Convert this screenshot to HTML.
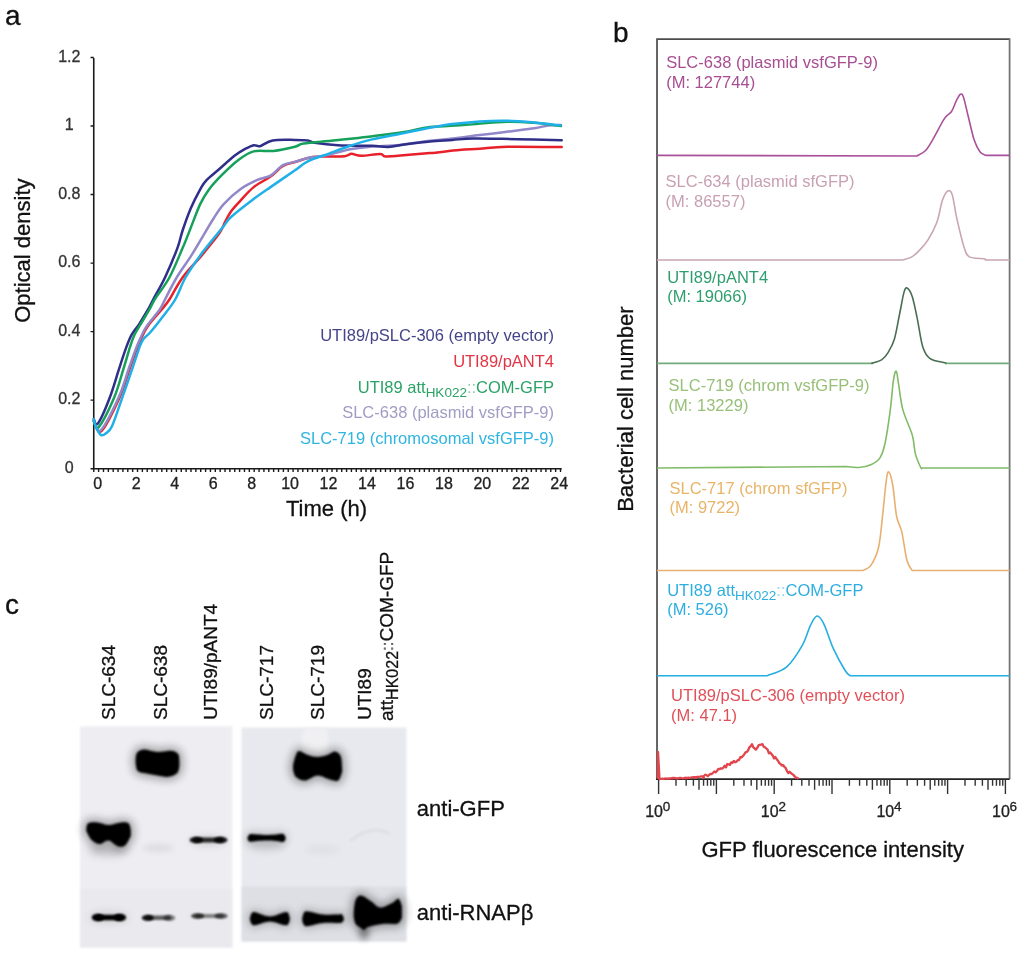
<!DOCTYPE html><html><head><meta charset="utf-8"><style>html,body{margin:0;padding:0;background:#fff;width:1024px;height:954px;overflow:hidden}svg{display:block;filter:blur(0.4px)}text{font-family:"Liberation Sans",sans-serif}</style></head><body>
<svg width="1024" height="954" viewBox="0 0 1024 954">
<rect width="1024" height="954" fill="#fff"/>
<text x="5" y="25" font-size="28" fill="#111" stroke="#111" stroke-width="0.3">a</text>
<text x="613" y="42" font-size="28" fill="#111" stroke="#111" stroke-width="0.3">b</text>
<text x="5" y="614" font-size="28" fill="#111" stroke="#111" stroke-width="0.3">c</text>
<path d="M93.75 57.9 V468.7 H561.7" fill="none" stroke="#1a1a1a" stroke-width="1.6"/>
<path d="M90.55 468.70H93.75M90.55 400.16H93.75M90.55 331.62H93.75M90.55 263.08H93.75M90.55 194.54H93.75M90.55 126.00H93.75M90.55 57.46H93.75M93.75 468.7V471.9M98.61 468.7V471.9M103.47 468.7V471.9M108.34 468.7V471.9M113.20 468.7V471.9M118.06 468.7V471.9M122.92 468.7V471.9M127.78 468.7V471.9M132.65 468.7V471.9M137.51 468.7V471.9M142.37 468.7V471.9M147.23 468.7V471.9M152.09 468.7V471.9M156.96 468.7V471.9M161.82 468.7V471.9M166.68 468.7V471.9M171.54 468.7V471.9M176.40 468.7V471.9M181.27 468.7V471.9M186.13 468.7V471.9M190.99 468.7V471.9M195.85 468.7V471.9M200.71 468.7V471.9M205.58 468.7V471.9M210.44 468.7V471.9M215.30 468.7V471.9M220.16 468.7V471.9M225.02 468.7V471.9M229.89 468.7V471.9M234.75 468.7V471.9M239.61 468.7V471.9M244.47 468.7V471.9M249.33 468.7V471.9M254.20 468.7V471.9M259.06 468.7V471.9M263.92 468.7V471.9M268.78 468.7V471.9M273.64 468.7V471.9M278.51 468.7V471.9M283.37 468.7V471.9M288.23 468.7V471.9M293.09 468.7V471.9M297.95 468.7V471.9M302.82 468.7V471.9M307.68 468.7V471.9M312.54 468.7V471.9M317.40 468.7V471.9M322.26 468.7V471.9M327.12 468.7V471.9M331.99 468.7V471.9M336.85 468.7V471.9M341.71 468.7V471.9M346.57 468.7V471.9M351.43 468.7V471.9M356.30 468.7V471.9M361.16 468.7V471.9M366.02 468.7V471.9M370.88 468.7V471.9M375.74 468.7V471.9M380.61 468.7V471.9M385.47 468.7V471.9M390.33 468.7V471.9M395.19 468.7V471.9M400.05 468.7V471.9M404.92 468.7V471.9M409.78 468.7V471.9M414.64 468.7V471.9M419.50 468.7V471.9M424.36 468.7V471.9M429.23 468.7V471.9M434.09 468.7V471.9M438.95 468.7V471.9M443.81 468.7V471.9M448.67 468.7V471.9M453.54 468.7V471.9M458.40 468.7V471.9M463.26 468.7V471.9M468.12 468.7V471.9M472.98 468.7V471.9M477.85 468.7V471.9M482.71 468.7V471.9M487.57 468.7V471.9M492.43 468.7V471.9M497.29 468.7V471.9M502.16 468.7V471.9M507.02 468.7V471.9M511.88 468.7V471.9M516.74 468.7V471.9M521.60 468.7V471.9M526.47 468.7V471.9M531.33 468.7V471.9M536.19 468.7V471.9M541.05 468.7V471.9M545.91 468.7V471.9M550.78 468.7V471.9M555.64 468.7V471.9M560.50 468.7V471.9" stroke="#1a1a1a" stroke-width="1.4" fill="none"/>
<text x="69.3" y="472.9" font-size="16" text-anchor="middle" fill="#333" stroke="#333" stroke-width="0.3">0</text>
<text x="69.3" y="404.4" font-size="16" text-anchor="middle" fill="#333" stroke="#333" stroke-width="0.3">0.2</text>
<text x="69.3" y="335.8" font-size="16" text-anchor="middle" fill="#333" stroke="#333" stroke-width="0.3">0.4</text>
<text x="69.3" y="267.3" font-size="16" text-anchor="middle" fill="#333" stroke="#333" stroke-width="0.3">0.6</text>
<text x="69.3" y="198.7" font-size="16" text-anchor="middle" fill="#333" stroke="#333" stroke-width="0.3">0.8</text>
<text x="69.3" y="130.2" font-size="16" text-anchor="middle" fill="#333" stroke="#333" stroke-width="0.3">1</text>
<text x="69.3" y="61.7" font-size="16" text-anchor="middle" fill="#333" stroke="#333" stroke-width="0.3">1.2</text>
<text x="97.8" y="488.5" font-size="16" text-anchor="middle" fill="#222" stroke="#222" stroke-width="0.3">0</text>
<text x="136.2" y="488.5" font-size="16" text-anchor="middle" fill="#222" stroke="#222" stroke-width="0.3">2</text>
<text x="174.7" y="488.5" font-size="16" text-anchor="middle" fill="#222" stroke="#222" stroke-width="0.3">4</text>
<text x="213.2" y="488.5" font-size="16" text-anchor="middle" fill="#222" stroke="#222" stroke-width="0.3">6</text>
<text x="251.6" y="488.5" font-size="16" text-anchor="middle" fill="#222" stroke="#222" stroke-width="0.3">8</text>
<text x="290.1" y="488.5" font-size="16" text-anchor="middle" fill="#222" stroke="#222" stroke-width="0.3">10</text>
<text x="328.5" y="488.5" font-size="16" text-anchor="middle" fill="#222" stroke="#222" stroke-width="0.3">12</text>
<text x="367.0" y="488.5" font-size="16" text-anchor="middle" fill="#222" stroke="#222" stroke-width="0.3">14</text>
<text x="405.4" y="488.5" font-size="16" text-anchor="middle" fill="#222" stroke="#222" stroke-width="0.3">16</text>
<text x="443.9" y="488.5" font-size="16" text-anchor="middle" fill="#222" stroke="#222" stroke-width="0.3">18</text>
<text x="482.3" y="488.5" font-size="16" text-anchor="middle" fill="#222" stroke="#222" stroke-width="0.3">20</text>
<text x="520.8" y="488.5" font-size="16" text-anchor="middle" fill="#222" stroke="#222" stroke-width="0.3">22</text>
<text x="559.2" y="488.5" font-size="16" text-anchor="middle" fill="#222" stroke="#222" stroke-width="0.3">24</text>
<text x="326.5" y="516.3" font-size="22" text-anchor="middle" fill="#111" stroke="#111" stroke-width="0.3">Time (h)</text>
<text transform="translate(30.2 250.6) rotate(-90)" font-size="22" text-anchor="middle" fill="#111" stroke="#111" stroke-width="0.3">Optical density</text>
<path d="M93.8 421.0 C95.0 422.7 97.2 434.9 101.5 431.0 C105.8 427.1 114.8 408.2 119.5 397.8 C124.2 387.4 126.8 377.0 129.8 368.4 C132.9 359.8 135.4 352.5 137.8 346.4 C140.2 340.3 142.6 335.4 144.5 331.7 C146.4 328.0 146.2 328.1 149.0 324.4 C151.8 320.7 158.1 313.8 161.5 309.7 C164.9 305.6 165.9 304.9 169.4 299.5 C172.9 294.1 177.2 284.9 182.6 277.5 C188.0 270.1 195.6 262.8 201.7 255.4 C207.8 248.1 215.4 239.0 219.3 233.4 C223.2 227.8 223.2 225.4 225.2 221.7 C227.1 218.0 228.5 214.8 231.0 211.4 C233.5 208.0 236.2 205.2 240.0 201.1 C243.8 197.0 248.6 191.2 253.7 187.1 C258.8 183.0 265.6 180.1 270.5 176.6 C275.4 173.1 278.9 168.4 283.0 166.0 C287.1 163.6 290.4 163.4 295.0 162.0 C299.6 160.6 305.4 158.4 310.5 157.5 C315.6 156.6 319.8 156.7 325.5 156.5 C331.2 156.3 340.4 156.6 344.7 156.2 C349.0 155.8 348.8 153.9 351.5 153.8 C354.2 153.7 356.3 155.8 361.1 155.8 C365.9 155.8 376.1 153.9 380.2 154.0 C384.3 154.1 381.4 156.3 385.7 156.5 C390.0 156.7 398.8 155.7 406.2 155.1 C413.6 154.5 421.2 153.9 430.0 153.1 C438.8 152.3 450.9 150.8 459.2 150.1 C467.5 149.4 471.7 149.4 479.7 148.8 C487.7 148.2 493.3 147.0 507.0 146.7 C520.7 146.4 552.6 147.0 561.7 147.1" fill="none" stroke="#e8202a" stroke-width="2.5" stroke-linejoin="round" stroke-linecap="round"/>
<path d="M93.8 421.0 C94.9 422.5 96.8 434.0 100.9 430.1 C105.0 426.2 113.8 408.1 118.5 397.8 C123.2 387.5 125.8 377.0 128.8 368.4 C131.9 359.8 134.4 352.5 136.8 346.4 C139.2 340.3 141.7 335.4 143.5 331.7 C145.3 328.0 145.2 328.1 147.9 324.4 C150.6 320.7 156.8 313.8 159.6 309.7 C162.4 305.6 162.2 304.9 165.0 299.5 C167.8 294.1 172.3 284.9 176.7 277.5 C181.1 270.1 186.8 262.8 191.4 255.4 C196.1 248.1 200.9 239.5 204.6 233.4 C208.3 227.3 210.2 223.6 213.4 218.7 C216.6 213.8 219.3 209.0 223.7 204.1 C228.1 199.2 234.3 193.5 240.0 189.4 C245.7 185.3 252.8 182.0 257.9 179.7 C263.0 177.4 266.3 178.0 270.5 175.6 C274.7 173.2 278.9 167.4 283.0 165.1 C287.1 162.8 290.4 163.2 295.0 161.9 C299.6 160.6 305.6 158.2 310.5 157.2 C315.4 156.2 317.4 157.2 324.2 155.8 C331.0 154.4 343.5 150.5 351.5 149.0 C359.5 147.5 364.0 147.3 372.0 146.6 C380.0 145.9 389.7 145.9 399.4 144.9 C409.1 143.9 421.2 141.9 430.0 140.8 C438.8 139.7 444.0 139.4 452.3 138.5 C460.6 137.6 470.6 136.2 479.7 135.1 C488.8 134.0 497.9 132.8 507.0 131.7 C516.1 130.5 527.6 129.2 534.4 128.2 C541.2 127.2 543.6 126.0 548.0 125.5 C552.4 125.0 558.8 125.1 561.0 125.0" fill="none" stroke="#9088c8" stroke-width="2.5" stroke-linejoin="round" stroke-linecap="round"/>
<path d="M93.8 419.0 C94.4 419.8 95.2 427.0 97.9 423.5 C100.6 420.0 106.2 407.0 109.7 397.8 C113.2 388.6 116.4 377.0 119.2 368.4 C122.0 359.8 124.5 352.0 126.6 346.4 C128.7 340.8 129.6 338.3 131.7 334.6 C133.8 330.9 136.3 328.5 139.0 324.4 C141.7 320.2 145.5 313.8 147.9 309.7 C150.3 305.6 150.3 304.9 153.2 299.5 C156.0 294.1 161.0 286.1 165.0 277.5 C169.0 268.9 174.5 255.9 177.4 248.1 C180.3 240.3 180.4 237.1 182.6 230.5 C184.8 223.9 187.8 215.3 190.7 208.5 C193.6 201.7 197.6 194.1 200.2 189.4 C202.8 184.8 203.0 183.9 206.1 180.6 C209.2 177.3 213.7 174.0 218.5 169.8 C223.3 165.6 230.5 159.0 234.8 155.6 C239.1 152.2 241.2 151.1 244.3 149.4 C247.5 147.7 251.1 145.7 253.7 145.2 C256.3 144.7 256.9 147.0 260.0 146.2 C263.1 145.4 266.8 141.4 272.6 140.4 C278.4 139.4 289.1 139.9 295.0 139.9 C300.9 139.9 304.5 139.9 307.8 140.4 C311.1 140.9 309.6 142.0 314.6 142.8 C319.6 143.6 328.3 144.8 337.9 145.3 C347.5 145.8 363.6 145.5 372.0 145.8 C380.4 146.1 382.7 147.2 388.4 146.9 C394.1 146.6 399.3 145.1 406.2 144.2 C413.1 143.3 422.3 142.1 430.0 141.4 C437.7 140.7 445.2 140.4 452.3 139.9 C459.4 139.4 464.7 138.7 472.9 138.5 C481.1 138.3 491.6 138.6 501.6 138.8 C511.6 139.0 523.0 139.3 533.0 139.6 C543.0 139.8 556.9 140.2 561.7 140.3" fill="none" stroke="#2f2f8a" stroke-width="2.5" stroke-linejoin="round" stroke-linecap="round"/>
<path d="M93.8 421.0 C94.6 422.0 95.3 431.0 98.7 427.1 C102.1 423.2 109.9 407.6 114.1 397.8 C118.2 388.0 120.9 377.0 123.6 368.4 C126.3 359.8 128.4 352.0 130.2 346.4 C132.0 340.8 132.9 338.3 134.6 334.6 C136.3 330.9 138.1 328.5 140.5 324.4 C142.9 320.2 146.9 313.8 149.3 309.7 C151.7 305.6 151.3 304.9 154.7 299.5 C158.0 294.1 164.8 286.1 169.4 277.5 C174.1 268.9 178.9 256.7 182.6 248.1 C186.3 239.5 188.5 233.4 191.4 226.1 C194.3 218.8 197.3 210.2 200.2 204.1 C203.1 198.0 205.3 194.3 209.0 189.4 C212.7 184.5 217.3 179.6 222.2 174.7 C227.1 169.8 233.2 163.9 238.4 160.0 C243.7 156.1 247.8 152.9 253.7 151.4 C259.6 149.9 266.7 151.7 273.6 150.9 C280.5 150.1 290.0 147.9 295.0 146.7 C300.0 145.5 297.7 144.5 303.7 143.5 C309.7 142.5 321.9 141.7 331.0 140.8 C340.1 139.9 349.3 139.0 358.4 138.0 C367.5 137.0 377.3 135.7 385.7 134.6 C394.1 133.5 401.6 132.4 409.0 131.2 C416.4 129.9 420.5 128.2 430.0 127.1 C439.5 126.0 453.2 125.7 466.0 124.8 C478.8 123.9 495.7 122.1 507.0 121.8 C518.3 121.5 525.0 122.1 534.0 122.8 C543.0 123.5 556.5 125.5 561.0 126.0" fill="none" stroke="#16a05a" stroke-width="2.5" stroke-linejoin="round" stroke-linecap="round"/>
<path d="M93.8 419.0 C94.1 420.3 94.8 424.3 96.0 427.0 C97.2 429.7 99.3 433.9 100.9 435.0 C102.5 436.1 103.9 435.0 105.7 433.5 C107.5 432.0 109.2 432.1 112.0 426.2 C114.8 420.2 118.8 407.4 122.2 397.8 C125.6 388.2 129.5 377.0 132.4 368.4 C135.3 359.8 138.0 351.3 139.8 346.4 C141.7 341.5 141.7 341.4 143.5 339.0 C145.3 336.6 147.6 335.4 150.8 331.7 C154.0 328.0 158.4 322.4 162.5 317.0 C166.6 311.6 171.4 306.1 175.2 299.5 C179.0 292.9 181.3 284.9 185.5 277.5 C189.7 270.1 194.8 262.8 200.2 255.4 C205.6 248.1 213.9 238.3 217.8 233.4 C221.7 228.5 221.5 228.8 223.7 226.1 C225.9 223.4 226.2 221.4 231.0 217.0 C235.8 212.6 246.1 204.7 252.7 199.7 C259.3 194.7 263.4 192.0 270.5 187.1 C277.6 182.2 288.8 174.6 295.0 170.3 C301.2 166.0 302.2 164.1 307.8 161.3 C313.4 158.6 321.5 156.3 328.3 153.8 C335.1 151.3 341.5 148.6 348.8 146.2 C356.1 143.8 363.6 141.4 372.0 139.4 C380.4 137.4 389.7 135.8 399.4 133.9 C409.1 132.0 421.2 129.4 430.0 127.8 C438.8 126.2 444.0 125.2 452.3 124.1 C460.6 123.0 470.6 122.0 479.7 121.4 C488.8 120.8 497.9 120.5 507.0 120.7 C516.1 120.9 525.5 121.7 534.4 122.5 C543.3 123.3 556.1 125.0 560.4 125.5" fill="none" stroke="#1fb0e8" stroke-width="2.5" stroke-linejoin="round" stroke-linecap="round"/>
<text x="554" y="341.4" font-size="16.5" text-anchor="end" fill="#444488">UTI89/pSLC-306 (empty vector)</text>
<text x="554" y="367.2" font-size="16.5" text-anchor="end" fill="#e23444">UTI89/pANT4</text>
<text x="554" y="392.8" font-size="16.5" text-anchor="end" fill="#2aa266">UTI89 att<tspan font-size="13.5" dy="4">HK022</tspan><tspan dy="-4" opacity="0.55">::</tspan>COM-GFP</text>
<text x="554" y="418.3" font-size="16.5" text-anchor="end" fill="#a09cc4">SLC-638 (plasmid vsfGFP-9)</text>
<text x="554" y="444.2" font-size="16.5" text-anchor="end" fill="#30b4e0">SLC-719 (chromosomal vsfGFP-9)</text>
<path d="M657 779.2 V39.1 H1009.6" fill="none" stroke="#4c4c4c" stroke-width="1.7"/>
<path d="M1009.6 38.300000000000004 V779.2" fill="none" stroke="#747474" stroke-width="1.8"/>
<path d="M656 779.2 H1009.6" stroke="#222" stroke-width="1.7"/>
<path d="M658.60 779.2V793.9000000000001M676.00 779.2V785.7M686.18 779.2V785.7M693.40 779.2V785.7M699.00 779.2V789.8000000000001M703.58 779.2V785.7M707.45 779.2V785.7M710.80 779.2V785.7M713.76 779.2V785.7M716.40 779.2V793.9000000000001M733.80 779.2V785.7M743.98 779.2V785.7M751.20 779.2V785.7M756.80 779.2V789.8000000000001M761.38 779.2V785.7M765.25 779.2V785.7M768.60 779.2V785.7M771.56 779.2V785.7M774.20 779.2V793.9000000000001M791.60 779.2V785.7M801.78 779.2V785.7M809.00 779.2V785.7M814.60 779.2V789.8000000000001M819.18 779.2V785.7M823.05 779.2V785.7M826.40 779.2V785.7M829.36 779.2V785.7M832.00 779.2V793.9000000000001M849.40 779.2V785.7M859.58 779.2V785.7M866.80 779.2V785.7M872.40 779.2V789.8000000000001M876.98 779.2V785.7M880.85 779.2V785.7M884.20 779.2V785.7M887.16 779.2V785.7M889.80 779.2V793.9000000000001M907.20 779.2V785.7M917.38 779.2V785.7M924.60 779.2V785.7M930.20 779.2V789.8000000000001M934.78 779.2V785.7M938.65 779.2V785.7M942.00 779.2V785.7M944.96 779.2V785.7M947.60 779.2V793.9000000000001M965.00 779.2V785.7M975.18 779.2V785.7M982.40 779.2V785.7M988.00 779.2V789.8000000000001M992.58 779.2V785.7M996.45 779.2V785.7M999.80 779.2V785.7M1002.76 779.2V785.7M1005.40 779.2V793.9000000000001" stroke="#333" stroke-width="1.4" fill="none"/>
<text x="654.1" y="816.5" font-size="16" text-anchor="middle" fill="#222" stroke="#222" stroke-width="0.3">10</text><text x="662.8" y="811" font-size="13.5" fill="#222" stroke="#222" stroke-width="0.3">0</text>
<text x="769.7" y="816.5" font-size="16" text-anchor="middle" fill="#222" stroke="#222" stroke-width="0.3">10</text><text x="778.4" y="811" font-size="13.5" fill="#222" stroke="#222" stroke-width="0.3">2</text>
<text x="885.3" y="816.5" font-size="16" text-anchor="middle" fill="#222" stroke="#222" stroke-width="0.3">10</text><text x="894.0" y="811" font-size="13.5" fill="#222" stroke="#222" stroke-width="0.3">4</text>
<text x="1000.9" y="816.5" font-size="16" text-anchor="middle" fill="#222" stroke="#222" stroke-width="0.3">10</text><text x="1009.6" y="811" font-size="13.5" fill="#222" stroke="#222" stroke-width="0.3">6</text>
<text x="832.7" y="856.9" font-size="22" text-anchor="middle" fill="#111" stroke="#111" stroke-width="0.3">GFP fluorescence intensity</text>
<text transform="translate(632.8 409.1) rotate(-90)" font-size="22" text-anchor="middle" fill="#111" stroke="#111" stroke-width="0.3">Bacterial cell number</text>
<path d="M657 155.4 L917.0 156.0 C918.4 155.1 922.7 153.5 925.3 150.8 C927.9 148.2 929.3 145.5 932.5 140.1 C935.7 134.7 941.2 123.4 944.4 118.6 C947.6 113.8 949.5 114.5 951.5 111.5 C953.5 108.5 954.8 103.7 956.3 100.8 C957.8 97.9 959.2 94.9 960.4 94.3 C961.6 93.7 962.2 93.5 963.5 97.2 C964.8 100.9 966.4 109.1 968.2 116.2 C970.0 123.3 972.2 134.1 974.2 140.1 C976.2 146.1 978.1 149.4 980.1 152.0 C982.1 154.6 985.1 154.8 986.1 155.4 L1009.6 155.4" fill="none" stroke="#a8519a" stroke-width="1.6" stroke-linejoin="round"/>
<path d="M657 260 L902.9 260.0 C904.4 259.5 909.2 258.5 911.9 256.9 C914.6 255.3 916.4 253.4 919.1 250.6 C921.8 247.8 925.0 244.6 928.0 239.8 C931.0 235.0 934.6 228.5 937.0 221.9 C939.4 215.3 940.6 205.5 942.4 200.3 C944.2 195.2 946.1 191.9 947.8 191.0 C949.4 190.1 950.8 190.3 952.3 194.9 C953.8 199.5 954.8 209.6 956.8 218.3 C958.8 227.0 961.9 240.6 964.0 247.0 C966.1 253.4 966.1 254.9 969.4 256.9 C972.7 258.8 981.1 258.2 983.8 258.7 C986.5 259.2 985.2 259.8 985.5 260.0 L1009.6 260" fill="none" stroke="#c9a5b5" stroke-width="1.6" stroke-linejoin="round"/>
<path d="M657 363.4 H873.4 M945 363.4 H1009.6" fill="none" stroke="#72aa7a" stroke-width="1.8"/>
<path d="M871.4 363.4 C873.1 362.8 879.1 361.5 881.9 359.6 C884.7 357.8 886.1 355.8 888.2 352.3 C890.3 348.8 892.6 345.2 894.5 338.7 C896.4 332.2 898.1 321.2 899.7 313.5 C901.3 305.8 902.7 296.9 903.9 292.6 C905.1 288.4 905.7 287.3 907.1 288.0 C908.5 288.7 910.6 291.5 912.3 296.8 C914.0 302.1 915.8 311.4 917.5 319.8 C919.2 328.2 920.7 340.5 922.8 347.0 C924.9 353.5 926.4 356.0 930.1 358.6 C933.8 361.2 942.1 362.0 944.8 362.8 C947.4 363.6 945.8 363.3 946.0 363.4" fill="none" stroke="#4a6e52" stroke-width="1.6" stroke-linejoin="round"/>
<path d="M657 468 L846.3 466.5 C848.4 466.7 854.7 467.9 858.9 467.5 C863.1 467.1 867.9 466.0 871.4 464.4 C874.9 462.8 877.5 461.6 879.8 458.1 C882.1 454.6 883.2 451.5 885.0 443.5 C886.8 435.5 888.9 420.4 890.3 409.9 C891.7 399.4 892.4 387.1 893.4 380.6 C894.4 374.2 895.3 370.5 896.2 371.2 C897.1 371.9 897.6 378.4 898.7 384.8 C899.8 391.2 900.6 401.5 902.9 409.9 C905.2 418.3 910.2 427.8 912.3 435.1 C914.4 442.4 914.0 448.5 915.4 453.9 C916.8 459.3 919.6 465.1 920.7 467.5 C921.8 469.9 921.8 467.9 922.0 468.0 L1009.6 468" fill="none" stroke="#80bb68" stroke-width="1.6" stroke-linejoin="round"/>
<path d="M657 570.5 L863.1 570.5 C864.4 569.6 868.3 569.3 870.9 565.4 C873.5 561.5 876.7 555.5 878.6 547.3 C880.5 539.1 881.2 527.6 882.5 516.4 C883.8 505.2 885.2 487.7 886.3 480.3 C887.4 472.9 887.8 471.1 888.9 472.0 C890.0 472.9 891.5 478.1 892.8 485.5 C894.1 492.9 895.1 508.7 896.6 516.4 C898.1 524.1 900.1 524.6 901.8 531.9 C903.5 539.2 905.2 553.8 906.9 560.2 C908.6 566.6 911.2 568.8 912.1 570.5 L1009.6 570.5" fill="none" stroke="#e8b070" stroke-width="1.6" stroke-linejoin="round"/>
<path d="M657 675.7 L767.2 675.7 C770.5 674.2 780.9 671.9 786.7 666.8 C792.6 661.7 798.4 652.1 802.3 645.3 C806.2 638.5 807.8 630.7 810.2 625.8 C812.7 620.9 814.7 616.3 817.0 616.0 C819.3 615.7 821.0 618.3 823.8 623.8 C826.6 629.3 830.0 641.4 833.6 649.2 C837.2 657.0 842.5 666.3 845.3 670.7 C848.1 675.1 849.4 674.9 850.2 675.7 L1009.6 675.7" fill="none" stroke="#25aee0" stroke-width="1.6" stroke-linejoin="round"/>
<path d="M658.0 779.0 L658.0 752.0 L659.5 779.0 L661.0 778.8 L662.3 778.7 L663.6 778.9 L664.9 778.5 L666.2 778.7 L667.5 778.6 L668.8 778.3 L670.1 778.6 L671.4 778.2 L672.7 778.4 L674.0 778.1 L675.3 778.1 L676.6 778.3 L677.9 778.5 L679.2 778.0 L680.5 778.0 L681.8 778.2 L683.1 778.3 L684.4 778.1 L685.7 777.9 L687.0 778.2 L688.3 777.6 L689.6 778.0 L690.9 777.6 L692.2 777.3 L693.5 777.2 L694.8 777.1 L696.1 777.3 L697.4 776.8 L698.7 776.9 L700.0 776.7 L701.3 776.4 L702.6 776.4 L703.9 776.0 L705.2 774.7 L706.5 775.0 L707.8 776.3 L709.1 775.0 L710.4 773.9 L711.7 774.0 L713.0 772.8 L714.3 771.5 L715.6 772.3 L716.9 771.2 L718.2 769.0 L719.5 769.2 L720.8 768.3 L722.1 768.7 L723.4 767.6 L724.7 765.6 L726.0 767.3 L727.3 764.0 L728.6 764.3 L729.9 764.9 L731.2 762.4 L732.5 762.9 L733.8 760.9 L735.1 762.3 L736.4 761.8 L737.7 760.1 L739.0 760.0 L740.3 757.2 L741.6 757.4 L742.9 756.0 L744.2 754.5 L745.5 752.4 L746.8 751.9 L748.1 750.5 L749.4 747.3 L750.7 746.1 L752.0 744.1 L753.3 747.3 L754.6 748.4 L755.9 749.6 L757.2 748.1 L758.5 745.4 L759.8 744.8 L761.1 744.7 L762.4 744.1 L763.7 746.8 L765.0 747.3 L766.3 748.5 L767.6 749.7 L768.9 753.4 L770.2 752.5 L771.5 754.0 L772.8 755.7 L774.1 758.4 L775.4 757.0 L776.7 759.3 L778.0 760.8 L779.3 763.1 L780.6 764.0 L781.9 765.6 L783.2 765.1 L784.5 767.0 L785.8 768.2 L787.1 771.3 L788.4 773.0 L789.7 771.8 L791.0 773.1 L792.3 774.1 L793.6 775.0 L794.9 776.7 L796.2 777.9 L797.5 777.8 L798.4 779.0" fill="none" stroke="#e2454c" stroke-width="2.3" stroke-linejoin="round"/>
<path d="M672 777.8 h3" stroke="#e2454c" stroke-width="2"/>
<path d="M684 777.8 h3" stroke="#e2454c" stroke-width="2"/>
<path d="M694 777.8 h3" stroke="#e2454c" stroke-width="2"/>
<path d="M702 777.8 h3" stroke="#e2454c" stroke-width="2"/>
<text x="666.2" y="67.7" font-size="16.5" fill="#a84e92">SLC-638 (plasmid vsfGFP-9)</text>
<text x="666.2" y="87.6" font-size="16.5" fill="#a84e92">(M: 127744)</text>
<text x="665.6" y="187.3" font-size="16.5" fill="#c8a0b2">SLC-634 (plasmid sfGFP)</text>
<text x="665.6" y="206.9" font-size="16.5" fill="#c8a0b2">(M: 86557)</text>
<text x="667.2" y="282.5" font-size="16.5" fill="#2e9e6e">UTI89/pANT4</text>
<text x="667.2" y="302" font-size="16.5" fill="#2e9e6e">(M: 19066)</text>
<text x="668.6" y="390.8" font-size="16.5" fill="#98c078">SLC-719 (chrom vsfGFP-9)</text>
<text x="668.6" y="410.9" font-size="16.5" fill="#98c078">(M: 13229)</text>
<text x="669.5" y="493.8" font-size="16.5" fill="#e8b468">SLC-717 (chrom sfGFP)</text>
<text x="669.5" y="513.4" font-size="16.5" fill="#e8b468">(M: 9722)</text>
<text x="667.2" y="595.5" font-size="16.5" fill="#2eaee0">UTI89 att<tspan font-size="13.5" dy="4">HK022</tspan><tspan dy="-4" opacity="0.55">::</tspan>COM-GFP</text>
<text x="667.2" y="615" font-size="16.5" fill="#2eaee0">(M: 526)</text>
<text x="671.1" y="701.1" font-size="16.5" fill="#e05058">UTI89/pSLC-306 (empty vector)</text>
<text x="671.1" y="721" font-size="16.5" fill="#e05058">(M: 47.1)</text>
<text transform="translate(114.5 720) rotate(-90)" font-size="19" fill="#111" stroke="#111" stroke-width="0.3">SLC-634</text>
<text transform="translate(167 720) rotate(-90)" font-size="19" fill="#111" stroke="#111" stroke-width="0.3">SLC-638</text>
<text transform="translate(216.6 720) rotate(-90)" font-size="19" fill="#111" stroke="#111" stroke-width="0.3">UTI89/pANT4</text>
<text transform="translate(273.3 720) rotate(-90)" font-size="19" fill="#111" stroke="#111" stroke-width="0.3">SLC-717</text>
<text transform="translate(324 720) rotate(-90)" font-size="19" fill="#111" stroke="#111" stroke-width="0.3">SLC-719</text>
<text transform="translate(370.8 720) rotate(-90)" font-size="19" fill="#111" stroke="#111" stroke-width="0.3">UTI89</text>
<text transform="translate(393.3 721) rotate(-90)" font-size="19" fill="#111" stroke="#111" stroke-width="0.3">att<tspan font-size="16" dy="4.5">HK022</tspan><tspan dy="-4.5" fill="#888" font-size="17">::</tspan>COM-GFP</text>
<text x="416.8" y="816.1" font-size="22" fill="#111" stroke="#111" stroke-width="0.3">anti-GFP</text>
<text x="416.8" y="920" font-size="22" fill="#111" stroke="#111" stroke-width="0.3">anti-RNAPβ</text>
<defs>
<filter id="b1" filterUnits="userSpaceOnUse" x="0" y="500" width="1024" height="454"><feGaussianBlur stdDeviation="1.1"/></filter>
<filter id="b15" filterUnits="userSpaceOnUse" x="0" y="500" width="1024" height="454"><feGaussianBlur stdDeviation="1.6"/></filter>
<filter id="b2" filterUnits="userSpaceOnUse" x="0" y="500" width="1024" height="454"><feGaussianBlur stdDeviation="3"/></filter>
<filter id="b4" filterUnits="userSpaceOnUse" x="0" y="500" width="1024" height="454"><feGaussianBlur stdDeviation="4.5"/></filter>
<filter id="bb" filterUnits="userSpaceOnUse" x="0" y="500" width="1024" height="454"><feGaussianBlur stdDeviation="0.8"/></filter>
</defs>
<g filter="url(#bb)">
<rect x="80" y="726.3" width="152.4" height="221.3" fill="#eeeef2"/>
<rect x="80" y="888" width="152.4" height="59.6" fill="#eaeaee"/>
<rect x="241.5" y="727.5" width="165" height="214" fill="#e8e9ee"/>
<rect x="241.5" y="886.5" width="165" height="55" fill="#dedfe4"/>
</g>
<rect x="302" y="728" width="26" height="28" rx="8" fill="#f0f0f3" filter="url(#b15)"/>
<path d="M135.6 760.0 C135.8 758.8 135.6 754.7 136.9 753.0 C138.2 751.3 140.1 749.8 143.5 749.6 C146.9 749.4 153.0 751.8 157.5 752.0 C162.0 752.2 167.2 750.5 170.6 750.8 C174.1 751.1 176.6 752.1 178.1 754.0 C179.5 755.9 179.2 760.7 179.4 762.0 L179.4 766.0 C179.0 767.2 179.0 771.2 177.2 773.0 C175.4 774.8 171.7 776.4 168.4 776.8 C165.2 777.2 161.2 776.0 157.5 775.5 C153.8 775.0 149.8 774.2 146.6 773.5 C143.3 772.8 139.6 772.8 137.8 771.0 C136.0 769.2 136.0 764.3 135.6 763.0Z" fill="#000" stroke="#000" stroke-width="8" stroke-linejoin="round" opacity="0.3" filter="url(#b4)"/>
<path d="M135.6 760.0 C135.8 758.8 135.6 754.7 136.9 753.0 C138.2 751.3 140.1 749.8 143.5 749.6 C146.9 749.4 153.0 751.8 157.5 752.0 C162.0 752.2 167.2 750.5 170.6 750.8 C174.1 751.1 176.6 752.1 178.1 754.0 C179.5 755.9 179.2 760.7 179.4 762.0 L179.4 766.0 C179.0 767.2 179.0 771.2 177.2 773.0 C175.4 774.8 171.7 776.4 168.4 776.8 C165.2 777.2 161.2 776.0 157.5 775.5 C153.8 775.0 149.8 774.2 146.6 773.5 C143.3 772.8 139.6 772.8 137.8 771.0 C136.0 769.2 136.0 764.3 135.6 763.0Z" fill="#000" opacity="1" filter="url(#b1)"/>
<ellipse cx="108.5" cy="850" rx="20" ry="6" fill="#000" opacity="0.18" filter="url(#b4)"/>
<path d="M86.3 828.0 C86.7 827.2 86.7 823.9 88.5 823.0 C90.4 822.1 94.1 822.2 97.4 822.5 C100.8 822.8 104.6 825.0 108.6 825.0 C112.5 825.0 117.7 822.8 121.0 822.5 C124.3 822.2 126.9 822.2 128.6 823.5 C130.2 824.8 130.4 828.9 130.8 830.0 L130.8 836.0 C129.9 837.5 127.5 843.2 125.5 845.0 C123.4 846.8 121.2 847.2 118.3 846.5 C115.5 845.8 111.7 840.9 108.6 840.5 C105.4 840.1 102.5 844.1 99.7 844.0 C96.8 843.9 93.9 842.2 91.6 840.0 C89.4 837.8 87.2 832.5 86.3 831.0Z" fill="#000" stroke="#000" stroke-width="8" stroke-linejoin="round" opacity="0.3" filter="url(#b4)"/>
<path d="M86.3 828.0 C86.7 827.2 86.7 823.9 88.5 823.0 C90.4 822.1 94.1 822.2 97.4 822.5 C100.8 822.8 104.6 825.0 108.6 825.0 C112.5 825.0 117.7 822.8 121.0 822.5 C124.3 822.2 126.9 822.2 128.6 823.5 C130.2 824.8 130.4 828.9 130.8 830.0 L130.8 836.0 C129.9 837.5 127.5 843.2 125.5 845.0 C123.4 846.8 121.2 847.2 118.3 846.5 C115.5 845.8 111.7 840.9 108.6 840.5 C105.4 840.1 102.5 844.1 99.7 844.0 C96.8 843.9 93.9 842.2 91.6 840.0 C89.4 837.8 87.2 832.5 86.3 831.0Z" fill="#000" opacity="1" filter="url(#b1)"/>
<ellipse cx="208" cy="841" rx="18" ry="4" fill="#000" opacity="0.15" filter="url(#b4)"/>
<rect x="193.5" y="837.5" width="30.0" height="5" rx="2.5" fill="#000" opacity="0.8" filter="url(#b1)"/>
<ellipse cx="196.34" cy="840" rx="6.84" ry="3.25" fill="#000" opacity="0.88" filter="url(#b1)"/>
<ellipse cx="220.66" cy="840" rx="6.84" ry="3.25" fill="#000" opacity="0.88" filter="url(#b1)"/>
<ellipse cx="158" cy="848" rx="16" ry="4" fill="#000" opacity="0.07" filter="url(#b2)"/>
<ellipse cx="108.8" cy="917.5" rx="20" ry="6" fill="#000" opacity="0.1" filter="url(#b4)"/>
<rect x="95.7" y="914.75" width="26.39999999999999" height="5.5" rx="2.75" fill="#000" opacity="1" filter="url(#b1)"/>
<ellipse cx="97.892" cy="917.5" rx="6.191999999999998" ry="3.75" fill="#000" opacity="1" filter="url(#b1)"/>
<ellipse cx="119.908" cy="917.5" rx="6.191999999999998" ry="3.75" fill="#000" opacity="1" filter="url(#b1)"/>
<rect x="145.7" y="915.55" width="25.600000000000023" height="4.5" rx="2.25" fill="#000" opacity="0.6" filter="url(#b1)"/>
<ellipse cx="147.748" cy="917.8" rx="6.048000000000004" ry="3.0" fill="#000" opacity="0.9" filter="url(#b1)"/>
<ellipse cx="169.252" cy="917.8" rx="6.048000000000004" ry="3.0" fill="#000" opacity="0.45" filter="url(#b1)"/>
<rect x="195" y="914.0" width="28.69999999999999" height="4" rx="2.0" fill="#000" opacity="0.45" filter="url(#b1)"/>
<ellipse cx="197.606" cy="916" rx="6.605999999999998" ry="2.75" fill="#000" opacity="0.7" filter="url(#b1)"/>
<ellipse cx="221.094" cy="916" rx="6.605999999999998" ry="2.75" fill="#000" opacity="0.6" filter="url(#b1)"/>
<path d="M293.1 765.0 C293.5 763.5 294.6 758.3 295.6 756.0 C296.5 753.7 296.9 751.2 299.0 751.0 C301.0 750.8 304.7 754.0 307.8 755.0 C310.9 756.0 314.3 757.0 317.6 757.0 C320.9 757.0 324.5 755.9 327.4 755.0 C330.3 754.1 332.5 751.3 334.8 751.5 C337.0 751.7 339.4 753.2 340.6 756.0 C341.9 758.8 341.9 766.0 342.1 768.0 L342.1 772.0 C341.4 773.4 340.2 779.2 338.2 780.5 C336.1 781.8 333.3 780.3 329.9 779.5 C326.4 778.7 321.7 775.3 317.6 775.5 C313.5 775.7 308.9 780.2 305.4 780.5 C301.8 780.8 298.1 778.8 296.0 777.0 C294.0 775.2 293.6 771.2 293.1 770.0Z" fill="#000" stroke="#000" stroke-width="8" stroke-linejoin="round" opacity="0.3" filter="url(#b4)"/>
<path d="M293.1 765.0 C293.5 763.5 294.6 758.3 295.6 756.0 C296.5 753.7 296.9 751.2 299.0 751.0 C301.0 750.8 304.7 754.0 307.8 755.0 C310.9 756.0 314.3 757.0 317.6 757.0 C320.9 757.0 324.5 755.9 327.4 755.0 C330.3 754.1 332.5 751.3 334.8 751.5 C337.0 751.7 339.4 753.2 340.6 756.0 C341.9 758.8 341.9 766.0 342.1 768.0 L342.1 772.0 C341.4 773.4 340.2 779.2 338.2 780.5 C336.1 781.8 333.3 780.3 329.9 779.5 C326.4 778.7 321.7 775.3 317.6 775.5 C313.5 775.7 308.9 780.2 305.4 780.5 C301.8 780.8 298.1 778.8 296.0 777.0 C294.0 775.2 293.6 771.2 293.1 770.0Z" fill="#000" opacity="1" filter="url(#b1)"/>
<ellipse cx="266" cy="845" rx="18" ry="5" fill="#000" opacity="0.15" filter="url(#b4)"/>
<path d="M247.5 837.5 C247.9 837.0 248.2 834.7 249.8 834.2 C251.4 833.7 254.2 834.4 257.0 834.5 C259.8 834.6 263.4 835.0 266.6 835.0 C269.7 835.0 273.3 834.7 276.1 834.5 C278.9 834.3 281.7 833.5 283.3 834.0 C284.9 834.5 285.2 836.9 285.6 837.5 L285.6 839.0 C285.2 839.5 284.9 841.7 283.3 842.0 C281.7 842.3 278.9 841.2 276.1 841.0 C273.3 840.8 269.7 840.5 266.6 840.5 C263.4 840.5 259.8 840.8 257.0 841.0 C254.2 841.2 251.4 842.1 249.8 841.8 C248.2 841.5 247.9 839.5 247.5 839.0Z" fill="#000" stroke="#000" stroke-width="4" stroke-linejoin="round" opacity="0.2" filter="url(#b4)"/>
<path d="M247.5 837.5 C247.9 837.0 248.2 834.7 249.8 834.2 C251.4 833.7 254.2 834.4 257.0 834.5 C259.8 834.6 263.4 835.0 266.6 835.0 C269.7 835.0 273.3 834.7 276.1 834.5 C278.9 834.3 281.7 833.5 283.3 834.0 C284.9 834.5 285.2 836.9 285.6 837.5 L285.6 839.0 C285.2 839.5 284.9 841.7 283.3 842.0 C281.7 842.3 278.9 841.2 276.1 841.0 C273.3 840.8 269.7 840.5 266.6 840.5 C263.4 840.5 259.8 840.8 257.0 841.0 C254.2 841.2 251.4 842.1 249.8 841.8 C248.2 841.5 247.9 839.5 247.5 839.0Z" fill="#000" opacity="1" filter="url(#b1)"/>
<path d="M350 841 Q372 824 390 834" fill="none" stroke="#000" stroke-width="2.5" opacity="0.05" filter="url(#b15)"/>
<ellipse cx="322" cy="850" rx="18" ry="5" fill="#000" opacity="0.03" filter="url(#b2)"/>
<path d="M250.0 918.0 C250.3 917.1 251.0 913.7 252.0 912.8 C253.0 911.9 253.0 911.9 256.0 912.5 C259.0 913.1 265.3 916.5 269.9 916.5 C274.5 916.5 280.8 913.2 283.8 912.5 C286.8 911.8 286.8 911.6 287.8 912.5 C288.8 913.4 289.5 917.1 289.8 918.0 L289.8 920.0 C289.5 920.8 288.8 924.0 287.8 924.8 C286.8 925.6 286.8 925.5 283.8 925.0 C280.8 924.5 274.5 921.5 269.9 921.5 C265.3 921.5 259.0 924.5 256.0 925.0 C253.0 925.5 253.0 925.3 252.0 924.5 C251.0 923.7 250.3 920.8 250.0 920.0Z" fill="#000" stroke="#000" stroke-width="5" stroke-linejoin="round" opacity="0.22" filter="url(#b4)"/>
<path d="M250.0 918.0 C250.3 917.1 251.0 913.7 252.0 912.8 C253.0 911.9 253.0 911.9 256.0 912.5 C259.0 913.1 265.3 916.5 269.9 916.5 C274.5 916.5 280.8 913.2 283.8 912.5 C286.8 911.8 286.8 911.6 287.8 912.5 C288.8 913.4 289.5 917.1 289.8 918.0 L289.8 920.0 C289.5 920.8 288.8 924.0 287.8 924.8 C286.8 925.6 286.8 925.5 283.8 925.0 C280.8 924.5 274.5 921.5 269.9 921.5 C265.3 921.5 259.0 924.5 256.0 925.0 C253.0 925.5 253.0 925.3 252.0 924.5 C251.0 923.7 250.3 920.8 250.0 920.0Z" fill="#000" opacity="1" filter="url(#b1)"/>
<path d="M302.3 918.0 C302.6 917.0 303.3 913.1 304.4 912.0 C305.4 910.9 305.4 911.1 308.5 911.5 C311.6 911.9 318.2 914.0 323.1 914.5 C327.9 915.0 334.5 914.5 337.6 914.5 C340.7 914.5 340.7 913.6 341.7 914.2 C342.8 914.8 343.5 917.4 343.8 918.0 L343.8 920.0 C343.5 920.4 342.8 922.0 341.7 922.5 C340.7 923.0 340.7 922.9 337.6 923.0 C334.5 923.1 327.9 922.5 323.1 923.0 C318.2 923.5 311.6 925.6 308.5 926.0 C305.4 926.4 305.4 926.3 304.4 925.5 C303.3 924.7 302.6 921.8 302.3 921.0Z" fill="#000" stroke="#000" stroke-width="5" stroke-linejoin="round" opacity="0.22" filter="url(#b4)"/>
<path d="M302.3 918.0 C302.6 917.0 303.3 913.1 304.4 912.0 C305.4 910.9 305.4 911.1 308.5 911.5 C311.6 911.9 318.2 914.0 323.1 914.5 C327.9 915.0 334.5 914.5 337.6 914.5 C340.7 914.5 340.7 913.6 341.7 914.2 C342.8 914.8 343.5 917.4 343.8 918.0 L343.8 920.0 C343.5 920.4 342.8 922.0 341.7 922.5 C340.7 923.0 340.7 922.9 337.6 923.0 C334.5 923.1 327.9 922.5 323.1 923.0 C318.2 923.5 311.6 925.6 308.5 926.0 C305.4 926.4 305.4 926.3 304.4 925.5 C303.3 924.7 302.6 921.8 302.3 921.0Z" fill="#000" opacity="1" filter="url(#b1)"/>
<ellipse cx="364" cy="932" rx="5" ry="8" fill="#000" opacity="0.35" filter="url(#b2)"/>
<path d="M353.7 912.0 C354.0 910.0 354.4 902.8 355.6 900.0 C356.8 897.2 358.4 895.3 360.9 895.5 C363.4 895.7 367.4 899.0 370.6 901.0 C373.8 903.0 376.6 907.2 380.2 907.5 C383.8 907.8 389.2 904.5 392.3 903.0 C395.3 901.5 396.9 898.3 398.5 898.8 C400.1 899.3 401.3 904.8 401.9 906.0 L401.9 918.0 C401.1 919.0 400.3 922.7 397.1 923.7 C393.9 924.7 387.4 923.5 382.6 924.0 C377.8 924.5 371.2 926.0 368.2 927.0 C365.1 928.0 365.5 929.8 364.3 930.0 C363.1 930.2 362.4 929.0 360.9 928.0 C359.5 927.0 356.8 925.8 355.6 924.0 C354.4 922.2 354.0 918.2 353.7 917.0Z" fill="#000" stroke="#000" stroke-width="8" stroke-linejoin="round" opacity="0.3" filter="url(#b4)"/>
<path d="M353.7 912.0 C354.0 910.0 354.4 902.8 355.6 900.0 C356.8 897.2 358.4 895.3 360.9 895.5 C363.4 895.7 367.4 899.0 370.6 901.0 C373.8 903.0 376.6 907.2 380.2 907.5 C383.8 907.8 389.2 904.5 392.3 903.0 C395.3 901.5 396.9 898.3 398.5 898.8 C400.1 899.3 401.3 904.8 401.9 906.0 L401.9 918.0 C401.1 919.0 400.3 922.7 397.1 923.7 C393.9 924.7 387.4 923.5 382.6 924.0 C377.8 924.5 371.2 926.0 368.2 927.0 C365.1 928.0 365.5 929.8 364.3 930.0 C363.1 930.2 362.4 929.0 360.9 928.0 C359.5 927.0 356.8 925.8 355.6 924.0 C354.4 922.2 354.0 918.2 353.7 917.0Z" fill="#000" opacity="1" filter="url(#b1)"/>
</svg></body></html>
